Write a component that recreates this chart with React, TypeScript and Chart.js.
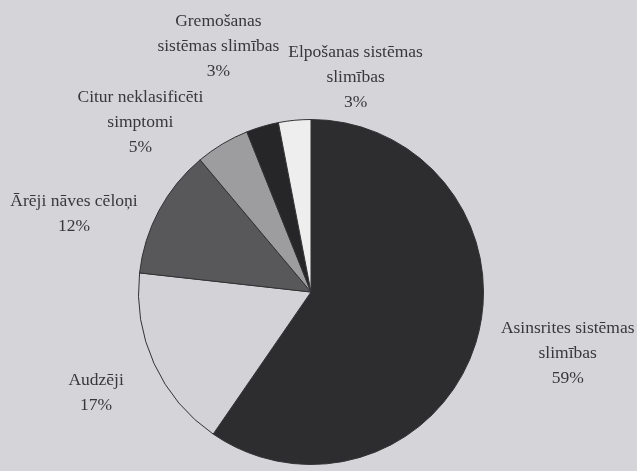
import React, { useEffect, useRef } from "react";
import { Chart, registerables } from "chart.js";

Chart.register(...registerables);

const categories = [
  ["Asinsrites sistēmas", "slimības"],
  ["Audzēji"],
  ["Ārēji nāves cēloņi"],
  ["Citur neklasificēti", "simptomi"],
  ["Gremošanas", "sistēmas slimības"],
  ["Elpošanas sistēmas", "slimības"],
];
const values = [59, 17, 12, 5, 3, 3];
const percentLabels = ["59%", "17%", "12%", "5%", "3%", "3%"];
const sliceColors = ["#2d2d2f", "#d3d3d7", "#58585a", "#9d9d9f", "#262628", "#eeeeee"];

// label block centre offsets relative to the slice's outer mid point
const labelOffsets = [
  { dx: 92, dy: 10 },
  { dx: -58, dy: 29 },
  { dx: -85, dy: 3 },
  { dx: -82, dy: -22 },
  { dx: -44, dy: -80 },
  { dx: 61, dy: -43 },
];

const labelPlugin = {
  id: "sliceLabels",
  afterDraw(chart: any) {
    const ctx = chart.ctx;
    const meta = chart.getDatasetMeta(0);
    ctx.save();
    ctx.font = "17.5px 'Liberation Serif', 'DejaVu Serif', serif";
    ctx.fillStyle = "#38383a";
    ctx.textAlign = "center";
    ctx.textBaseline = "middle";
    const lh = 25;
    meta.data.forEach((arc: any, i: number) => {
      const p = arc.getProps(["x", "y", "startAngle", "endAngle", "outerRadius"], true);
      const mid = (p.startAngle + p.endAngle) / 2;
      const ax = p.x + Math.cos(mid) * p.outerRadius;
      const ay = p.y + Math.sin(mid) * p.outerRadius;
      const lines = [...categories[i], percentLabels[i]];
      const cx = ax + labelOffsets[i].dx;
      const cy = ay + labelOffsets[i].dy;
      const top = cy - ((lines.length - 1) * lh) / 2;
      lines.forEach((t, k) => ctx.fillText(t, cx, top + k * lh));
    });
    ctx.restore();
  },
};

const bgPlugin = {
  id: "bg",
  beforeDraw(chart: any) {
    const ctx = chart.ctx;
    ctx.save();
    ctx.fillStyle = "#d5d5d9";
    ctx.fillRect(0, 0, chart.width, chart.height);
    ctx.restore();
  },
};

export default function App() {
  const ref = useRef<HTMLCanvasElement | null>(null);
  useEffect(() => {
    if (!ref.current) return;
    const chart = new Chart(ref.current, {
      type: "pie",
      data: {
        labels: categories.map((c) => c.join(" ")),
        datasets: [
          {
            data: values,
            backgroundColor: sliceColors,
            borderColor: "#333335",
            borderWidth: 1,
          },
        ],
      },
      options: {
        animation: false,
        responsive: false,
        layout: { padding: { left: 138, right: 153, top: 119, bottom: 6 } },
        plugins: { legend: { display: false }, tooltip: { enabled: false } },
      },
      plugins: [bgPlugin, labelPlugin],
    });
    return () => chart.destroy();
  }, []);
  return (
    <div style={{ position: "fixed", left: 0, top: 0, width: 637, height: 471 }}>
      <canvas ref={ref} width={637} height={471} style={{ width: 637, height: 471 }} />
    </div>
  );
}
